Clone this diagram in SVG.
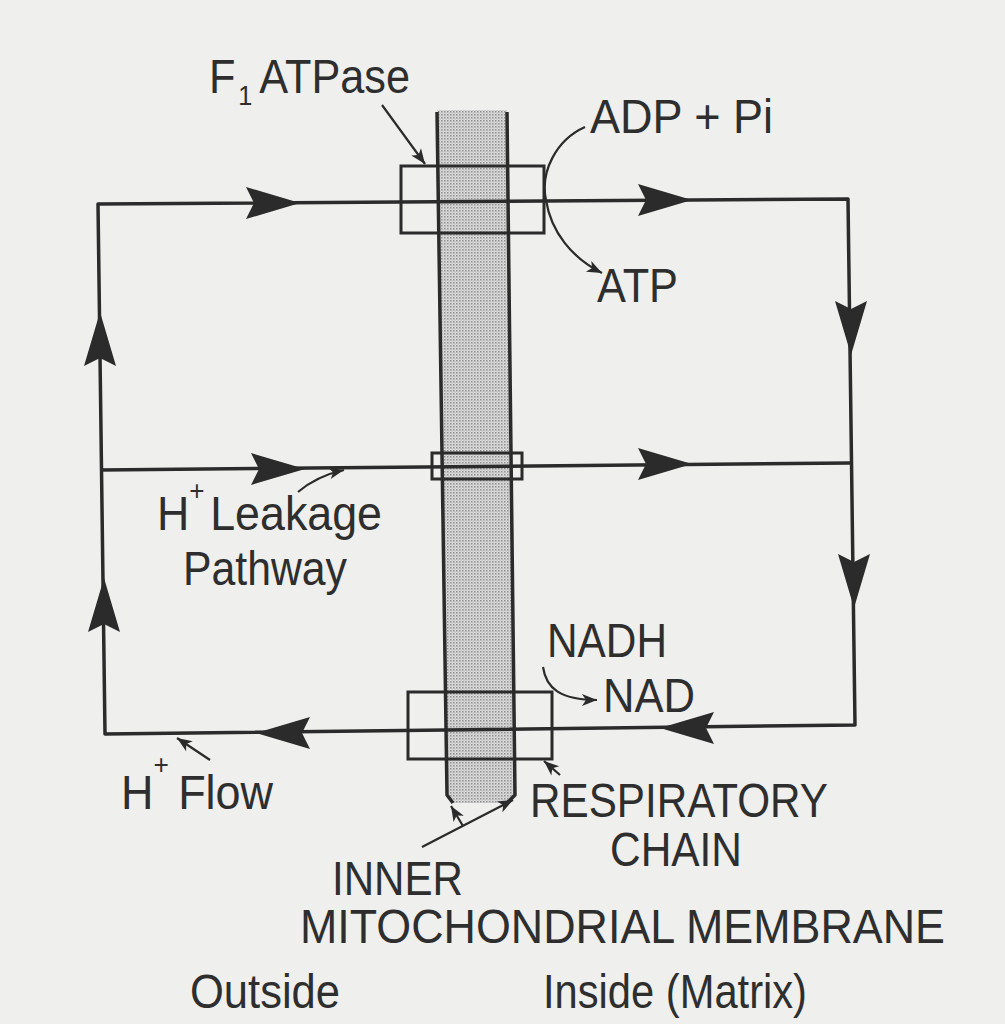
<svg xmlns="http://www.w3.org/2000/svg" xmlns:xlink="http://www.w3.org/1999/xlink" width="1005" height="1024" viewBox="0 0 1005 1024">
<style>
  .ln{fill:none;stroke:#2b2b2b;stroke-width:3.5;stroke-linejoin:round}
  .pt{fill:none;stroke:#2b2b2b;stroke-width:2.2}
  .bx{fill:none;stroke:#2b2b2b;stroke-width:3}
  .ah{fill:#2b2b2b}
  text{font-family:"Liberation Sans",Arial,sans-serif;font-size:48px;fill:#2e2e2e}
  .sup{font-size:28px}
</style>
<defs>
  <pattern id="stip" width="3" height="3" patternUnits="userSpaceOnUse">
    <rect width="3" height="3" fill="#dcdcdc"/>
    <rect x="0" y="0" width="1.5" height="1.5" fill="#8e8e8e"/>
    <rect x="1.5" y="1.5" width="1" height="1" fill="#a8a8a8"/>
  </pattern>
  <path id="ah" d="M0,0 L-54,-16 L-46,0 L-54,16 Z"/>
  <marker id="sm" viewBox="-16 -7 18 14" refX="0" refY="0" markerWidth="18" markerHeight="14" markerUnits="userSpaceOnUse" orient="auto">
    <path d="M0,0 L-15,-6 L-11,0 L-15,6 Z" fill="#2b2b2b"/>
  </marker>
</defs>
<rect width="1005" height="1024" fill="#efefed"/>

<g id="membrane">
  <polygon points="437,110 507,110 515,795 508,803 453,803 447,795" fill="url(#stip)"/>
  <path class="ln" d="M437,112 L447,795 L453,803" stroke-width="3"/>
  <path class="ln" d="M507,112 L515,795 L508,802" stroke-width="3"/>
</g>

<g id="connectors">
  <path class="ln" d="M105,734 L98,204 L848,199 L855,725 Z"/>
  <path class="ln" d="M101,470 L850,463"/>
  <g class="ah">
    <use xlink:href="#ah" transform="translate(300,203)"/>
    <use xlink:href="#ah" transform="translate(692,200)"/>
    <use xlink:href="#ah" transform="translate(305,469)"/>
    <use xlink:href="#ah" transform="translate(692,464)"/>
    <use xlink:href="#ah" transform="translate(851,355) rotate(90)"/>
    <use xlink:href="#ah" transform="translate(854,608) rotate(90)"/>
    <use xlink:href="#ah" transform="translate(660,728) rotate(180)"/>
    <use xlink:href="#ah" transform="translate(256,733) rotate(180)"/>
    <use xlink:href="#ah" transform="translate(100,312) rotate(-90)"/>
    <use xlink:href="#ah" transform="translate(104,578) rotate(-90)"/>
  </g>
  <path class="pt" d="M382,105 L425,164" marker-end="url(#sm)"/>
  <path class="pt" d="M585,127 C556,140 540,172 546,200 C551,232 572,258 602,273" marker-end="url(#sm)"/>
  <path class="pt" d="M298,492 C312,480 326,474 344,470" marker-end="url(#sm)"/>
  <path class="pt" d="M543,667 C546,688 560,700 597,700" marker-end="url(#sm)"/>
  <path class="pt" d="M210,760 L177,738" marker-end="url(#sm)"/>
  <path class="pt" d="M560,775 L544,761" marker-end="url(#sm)"/>
  <path class="pt" d="M422,847 L513,800" marker-end="url(#sm)"/>
  <path class="pt" d="M463,826 L451,806" marker-end="url(#sm)"/>
</g>

<g id="f1-atpase">
  <rect class="bx" x="401" y="166" width="143" height="67"/>
  <text x="209" y="93" textLength="201" lengthAdjust="spacingAndGlyphs">F<tspan class="sup" dx="3" dy="12">1</tspan><tspan dx="8" dy="-12">ATPase</tspan></text>
</g>

<g id="leak-channel">
  <rect class="bx" x="432" y="453" width="90" height="26"/>
</g>

<g id="respiratory-chain">
  <rect class="bx" x="408" y="692" width="144" height="67"/>
  <text x="530" y="817" textLength="298" lengthAdjust="spacingAndGlyphs">RESPIRATORY</text>
  <text x="610" y="866" textLength="132" lengthAdjust="spacingAndGlyphs">CHAIN</text>
</g>

<g id="labels">
  <text x="590" y="133" textLength="183" lengthAdjust="spacingAndGlyphs">ADP + Pi</text>
  <text x="597" y="302" textLength="81" lengthAdjust="spacingAndGlyphs">ATP</text>
  <text x="157" y="530" textLength="225" lengthAdjust="spacingAndGlyphs">H<tspan class="sup" dy="-30">+</tspan><tspan dx="6" dy="30">Leakage</tspan></text>
  <text x="183" y="585" textLength="164" lengthAdjust="spacingAndGlyphs">Pathway</text>
  <text x="547" y="657" textLength="120" lengthAdjust="spacingAndGlyphs">NADH</text>
  <text x="603" y="712" textLength="92" lengthAdjust="spacingAndGlyphs">NAD</text>
  <text x="121" y="809" textLength="152" lengthAdjust="spacingAndGlyphs">H<tspan class="sup" dy="-35">+</tspan><tspan dx="10" dy="35">Flow</tspan></text>
  <text x="332" y="895" textLength="131" lengthAdjust="spacingAndGlyphs">INNER</text>
  <text x="300" y="943" textLength="645" lengthAdjust="spacingAndGlyphs">MITOCHONDRIAL MEMBRANE</text>
  <text x="190" y="1008" textLength="150" lengthAdjust="spacingAndGlyphs">Outside</text>
  <text x="543" y="1008" textLength="264" lengthAdjust="spacingAndGlyphs">Inside (Matrix)</text>
</g>
</svg>
